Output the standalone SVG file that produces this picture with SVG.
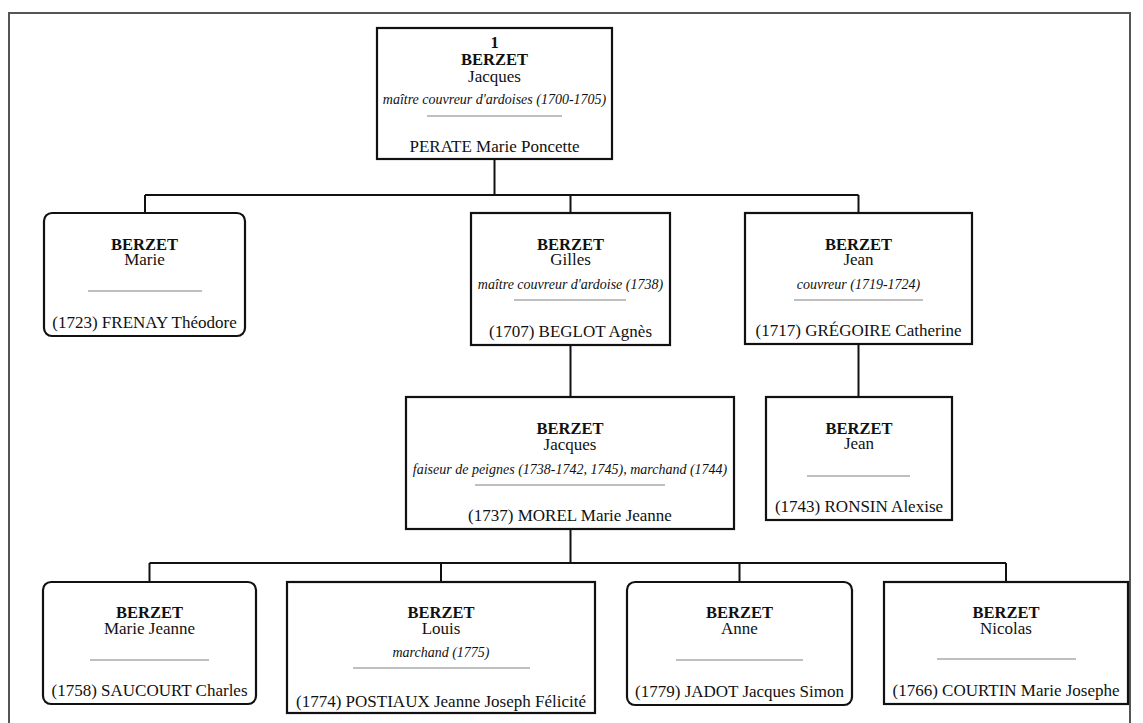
<svg xmlns="http://www.w3.org/2000/svg" width="1143" height="723" viewBox="0 0 1143 723">
<style>
text{font-family:"Liberation Serif","Times New Roman",serif;fill:#111;text-anchor:middle;font-size:17px}
.b{font-weight:bold;font-size:16.5px}
.i{font-style:italic;font-size:14px}
.box{fill:#fff;stroke:#111;stroke-width:2.2}
.sep{stroke:#aaa;stroke-width:1.5}
.con{fill:none;stroke:#111;stroke-width:2}
</style>
<rect width="1143" height="723" fill="#fff"/>
<rect x="9" y="13" width="1121" height="730" fill="none" stroke="#555" stroke-width="2"/>
<g id="connectors">
<path class="con" d="M494.5,159 V195 M145,195 H858.5 M145,195 V213 M570.5,195 V213 M858.5,195 V213"/>
<path class="con" d="M570.5,345 V397 M858.5,344 V397"/>
<path class="con" d="M570.5,529 V563 M149.5,563 H1006 M149.5,563 V582 M441,563 V582 M739.5,563 V582 M1006,563 V582"/>
</g>
<g id="n1">
<rect class="box" x="377" y="28" width="235" height="131"/>
<text class="b" x="494.5" y="48">1</text>
<text class="b" x="494.5" y="64.5">BERZET</text>
<text x="494.5" y="81.5">Jacques</text>
<text class="i" x="494.5" y="104">maître couvreur d'ardoises (1700-1705)</text>
<line class="sep" x1="427" y1="116" x2="562" y2="116"/>
<text x="494.5" y="152">PERATE Marie Poncette</text>
</g>
<g id="n2">
<rect class="box" x="44" y="213" width="201" height="123" rx="8"/>
<text class="b" x="144.5" y="249.5">BERZET</text>
<text x="144.5" y="264.5">Marie</text>
<line class="sep" x1="88" y1="291" x2="202" y2="291"/>
<text x="144.5" y="328">(1723) FRENAY Théodore</text>
</g>
<g id="n3">
<rect class="box" x="471" y="213" width="199" height="132"/>
<text class="b" x="570.5" y="249.5">BERZET</text>
<text x="570.5" y="264.5">Gilles</text>
<text class="i" x="570.5" y="289">maître couvreur d'ardoise (1738)</text>
<line class="sep" x1="514" y1="300" x2="626" y2="300"/>
<text x="570.5" y="337">(1707) BEGLOT Agnès</text>
</g>
<g id="n4">
<rect class="box" x="745" y="213" width="227" height="131"/>
<text class="b" x="858.5" y="249.5">BERZET</text>
<text x="858.5" y="264.5">Jean</text>
<text class="i" x="858.5" y="289">couvreur (1719-1724)</text>
<line class="sep" x1="794" y1="300" x2="923" y2="300"/>
<text x="858.5" y="336">(1717) GRÉGOIRE Catherine</text>
</g>
<g id="n5">
<rect class="box" x="406" y="397" width="328" height="132"/>
<text class="b" x="570" y="433.5">BERZET</text>
<text x="570" y="449.5">Jacques</text>
<text class="i" x="570" y="474">faiseur de peignes (1738-1742, 1745), marchand (1744)</text>
<line class="sep" x1="475" y1="485" x2="665" y2="485"/>
<text x="570" y="521">(1737) MOREL Marie Jeanne</text>
</g>
<g id="n6">
<rect class="box" x="766" y="397" width="186" height="123"/>
<text class="b" x="859" y="433.5">BERZET</text>
<text x="859" y="448.5">Jean</text>
<line class="sep" x1="807" y1="476" x2="910" y2="476"/>
<text x="859" y="512">(1743) RONSIN Alexise</text>
</g>
<g id="n7">
<rect class="box" x="43" y="582" width="213" height="122" rx="8"/>
<text class="b" x="149.5" y="617.5">BERZET</text>
<text x="149.5" y="633.5">Marie Jeanne</text>
<line class="sep" x1="90" y1="660" x2="209" y2="660"/>
<text x="149.5" y="696">(1758) SAUCOURT Charles</text>
</g>
<g id="n8">
<rect class="box" x="287" y="582" width="308" height="131"/>
<text class="b" x="441" y="617.5">BERZET</text>
<text x="441" y="633.5">Louis</text>
<text class="i" x="441" y="657">marchand (1775)</text>
<line class="sep" x1="353" y1="668" x2="530" y2="668"/>
<text x="441" y="707">(1774) POSTIAUX Jeanne Joseph Félicité</text>
</g>
<g id="n9">
<rect class="box" x="627" y="582" width="225" height="123" rx="8"/>
<text class="b" x="739.5" y="617.5">BERZET</text>
<text x="739.5" y="633.5">Anne</text>
<line class="sep" x1="676" y1="660" x2="803" y2="660"/>
<text x="739.5" y="697">(1779) JADOT Jacques Simon</text>
</g>
<g id="n10">
<rect class="box" x="884" y="582" width="244" height="122"/>
<text class="b" x="1006" y="617.5">BERZET</text>
<text x="1006" y="633.5">Nicolas</text>
<line class="sep" x1="937" y1="659" x2="1076" y2="659"/>
<text x="1006" y="696">(1766) COURTIN Marie Josephe</text>
</g>
</svg>
